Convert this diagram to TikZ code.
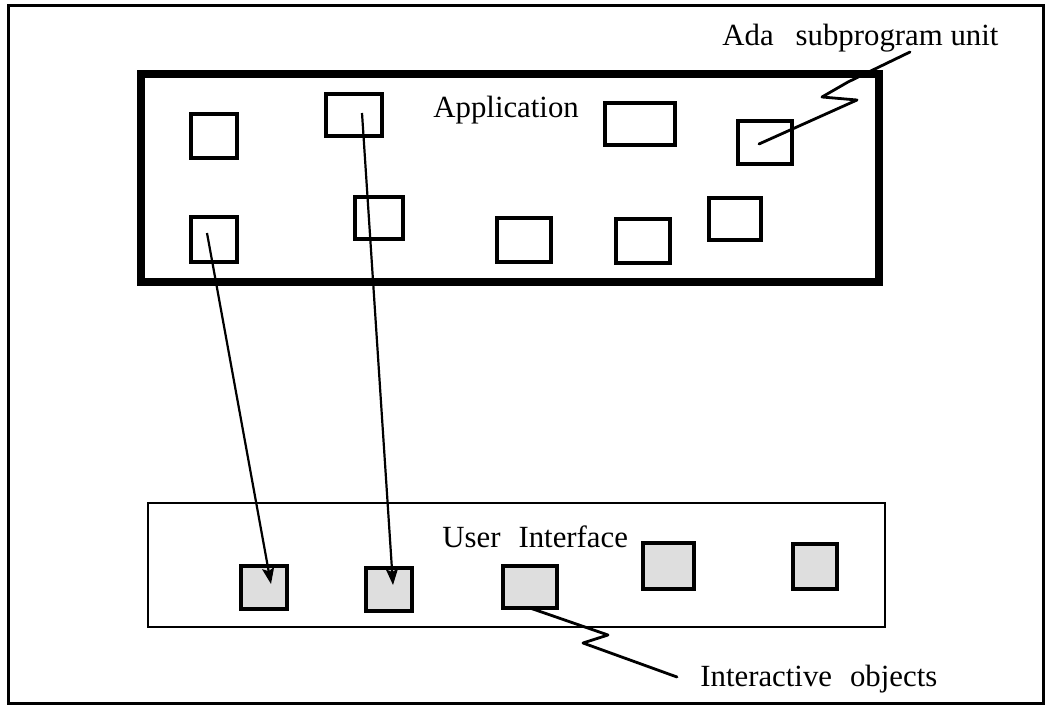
\documentclass[tikz,border=0pt]{standalone}
\usepackage{fontspec}
\setmainfont{Liberation Serif}
\usetikzlibrary{arrows.meta}
\begin{document}
\begin{tikzpicture}[x=0.5pt,y=-0.5pt,
  frame/.style={draw=black,line width=1.5pt},
  appframe/.style={draw=black,line width=4pt},
  uiframe/.style={draw=black,line width=1.2pt},
  unit/.style={draw=black,line width=1.6pt,inner sep=0pt,fill=white},
  ionode/.style={draw=black,line width=1.8pt,inner sep=0pt,fill=black!13},
  label/.style={inner sep=0pt,anchor=base west,font=\fontsize{15.4}{18}\selectfont},
  link/.style={draw=black,line width=1.1pt,-{Stealth[length=8pt,width=6pt,inset=1.5pt]}},
  callout/.style={draw=black,line width=1.4pt,line join=round,line cap=round}]
\useasboundingbox (0,0) rectangle (1050,706);
% outer frame
\draw[frame] (8,6) rectangle (1043,703);
% application area
\draw[appframe] (141,74) rectangle (879,282);
\node[label] (applbl) at (433,118) {Application};
\node[unit,minimum width=23pt,minimum height=22pt]   (a1) at (214,136) {};
\node[unit,minimum width=28pt,minimum height=21pt]   (a2) at (354,115) {};
\node[unit,minimum width=23pt,minimum height=22.5pt] (a3) at (214,239.5) {};
\node[unit,minimum width=24pt,minimum height=21pt]   (a4) at (379,218) {};
\node[unit,minimum width=27pt,minimum height=22pt]   (a5) at (524,240) {};
\node[unit,minimum width=35pt,minimum height=21pt]   (a6) at (640,124) {};
\node[unit,minimum width=27pt,minimum height=21.5pt] (a7) at (765,142.5) {};
\node[unit,minimum width=27pt,minimum height=22pt]   (a8) at (643,241) {};
\node[unit,minimum width=26pt,minimum height=21pt]   (a9) at (735,219) {};
% user interface area
\draw[uiframe] (148,503) rectangle (885,627);
\node[label] (uilbl) at (442,547) {User\hspace{9pt}Interface};
\node[ionode,minimum width=23pt,minimum height=21.5pt] (u1) at (264,587.5) {};
\node[ionode,minimum width=23pt,minimum height=21.5pt] (u2) at (389,589.5) {};
\node[ionode,minimum width=27pt,minimum height=21pt]   (u3) at (530,587) {};
\node[ionode,minimum width=25.5pt,minimum height=23pt] (u4) at (668.5,566) {};
\node[ionode,minimum width=22pt,minimum height=22.5pt] (u5) at (815,566.5) {};
% links from application units to interactive objects
\coordinate (s1) at (207,233);
\coordinate (e1) at (271,584);
\coordinate (s2) at (362,113);
\coordinate (e2) at (393,585);
\draw[link] (s1) -- (e1);
\draw[link] (s2) -- (e2);
% annotations
\node[label] (adalbl) at (722,46) {Ada\hspace{11pt}subprogram unit};
\node[label] (iolbl) at (700,686) {Interactive\hspace{9pt}objects};
\coordinate (ada0) at (910,52);
\coordinate (ada1) at (759,144);
\draw[callout] (ada0) -- (848,82) -- (822,97) -- (857,100) -- (ada1);
\coordinate (io0) at (530,608);
\coordinate (io1) at (677,677);
\draw[callout] (io0) -- (608,635) -- (583,643) -- (io1);
\end{tikzpicture}
\end{document}
